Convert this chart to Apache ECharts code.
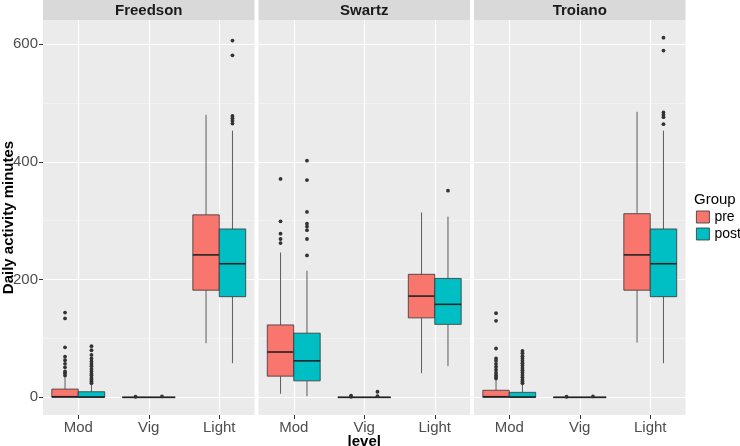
<!DOCTYPE html>
<html>
<head>
<meta charset="utf-8">
<script src="https://cdn.jsdelivr.net/npm/echarts@6/dist/echarts.min.js"></script>
<style>html,body{margin:0;padding:0;background:#fff;}#c{width:740px;height:446px;}</style>
</head>
<body>
<div id="c"></div>
<script>
// ---------- data ----------
const panels = ['Freedson', 'Swartz', 'Troiano'];
const levels = ['Mod', 'Vig', 'Light'];
const groups = ['pre', 'post'];
const yTicks = [0, 200, 400, 600];

// box stats per level: [lower whisker, Q1, median, Q3, upper whisker]
const freedsonPre  = [[0, 0, 1, 14, 34], [0, 0, 0, 0, 0], [92, 182, 242, 310, 480]];
const freedsonPost = [[0, 0, 0.5, 9.5, 21], [0, 0, 0, 0, 0], [58, 171, 227, 286, 453]];
const swartzPre    = [[6, 36, 77, 123, 246], [0, 0, 0, 0, 0], [41, 135, 172, 209, 314]];
const swartzPost   = [[2, 28, 62, 109, 215], [0, 0, 0, 0, 0], [53, 124, 158, 202, 307]];
const troianoPre   = [[0, 0, 1, 12, 29], [0, 0, 0, 0, 0], [93, 182, 242, 312, 485]];
const troianoPost  = [[0, 0, 0.5, 8.5, 21], [0, 0, 0, 0, 0], [58, 171, 227, 286, 453]];

// outliers: [level index, value]
const freedsonPreOut  = [[0,144],[0,134],[0,85],[0,69],[0,63],[0,57],[0,51],[0,44],[0,41],[0,37],[1,1]];
const freedsonPostOut = [[0,87],[0,80],[0,72],[0,66],[0,61],[0,57],[0,53],[0,48],[0,44],[0,40],[0,37],[0,33],[0,30],[0,27],[0,24],[1,1.5],
                         [2,606],[2,581],[2,478],[2,474],[2,470],[2,465]];
const swartzPreOut    = [[0,371],[0,299],[0,278],[0,269],[0,262],[1,1],[1,3]];
const swartzPostOut   = [[0,402],[0,369],[0,315],[0,295],[0,290],[0,284],[0,269],[0,241],[1,2],[1,9.5],[2,351]];
const troianoPreOut   = [[0,143],[0,130],[0,83],[0,66],[0,62],[0,57],[0,52],[0,47],[0,42],[0,38],[0,35],[0,32],[1,1]];
const troianoPostOut  = [[0,79],[0,75],[0,70],[0,66],[0,62],[0,58],[0,54],[0,50],[0,46],[0,42],[0,38],[0,34],[0,30],[0,27],[0,24],[1,1.5],
                         [2,611],[2,589],[2,484],[2,480],[2,476],[2,464]];

const boxData = [[freedsonPre, freedsonPost], [swartzPre, swartzPost], [troianoPre, troianoPost]];
const outData = [[freedsonPreOut, freedsonPostOut], [swartzPreOut, swartzPostOut], [troianoPreOut, troianoPostOut]];

// ---------- styling ----------
const colors = ['#F8766D', '#00BFC4'];
const panelLeft = [43, 258.5, 474];
const panelWidth = 211.5;
const panelTop = 20, panelHeight = 395;
const yMin = -30, yMax = 641;

const chart = echarts.init(document.getElementById('c'), null, {renderer: 'canvas'});

function renderBox(params, api) {
  const cat = api.value(0), grp = api.value(1);
  const bw = api.size([1, 0])[0];
  const w = bw * 0.375;
  const cx = api.coord([cat, 0])[0] + (grp === 0 ? -w / 2 : w / 2);
  const y = v => api.coord([cat, v])[1];
  const lo = api.value(2), q1 = api.value(3), med = api.value(4), q3 = api.value(5), hi = api.value(6);
  const wl = {stroke: '#4d4d4d', lineWidth: 0.9};
  const children = [];
  if (hi > q3) children.push({type: 'line', shape: {x1: cx, y1: y(hi), x2: cx, y2: y(q3)}, style: wl});
  if (q1 > lo) children.push({type: 'line', shape: {x1: cx, y1: y(q1), x2: cx, y2: y(lo)}, style: wl});
  children.push({type: 'rect', shape: {x: cx - w / 2, y: y(q3), width: w, height: Math.max(y(q1) - y(q3), 0)},
    style: {fill: colors[grp], stroke: '#333', lineWidth: 0.8}});
  children.push({type: 'line', shape: {x1: cx - w / 2, y1: y(med), x2: cx + w / 2, y2: y(med)},
    style: {stroke: '#222', lineWidth: 1.6}});
  return {type: 'group', children};
}

function renderOut(params, api) {
  const cat = api.value(0), grp = api.value(1);
  const bw = api.size([1, 0])[0];
  const w = bw * 0.375;
  const p = api.coord([cat, api.value(2)]);
  const cx = p[0] + (grp === 0 ? -w / 2 : w / 2);
  return {type: 'circle', shape: {cx: cx, cy: p[1], r: 1.9}, style: {fill: '#333'}};
}

const grid = [], xAxis = [], yAxis = [], series = [];
panels.forEach((name, i) => {
  grid.push({left: panelLeft[i], top: panelTop, width: panelWidth, height: panelHeight,
    show: true, backgroundColor: '#ebebeb', borderWidth: 0, containLabel: false, outerBoundsMode: 'none'});
  xAxis.push({type: 'category', gridIndex: i, data: levels, boundaryGap: true,
    axisLine: {show: false, onZero: false},
    axisTick: {show: true, alignWithLabel: true, length: 4, lineStyle: {color: '#333', width: 1}},
    axisLabel: {color: '#4d4d4d', fontSize: 15, fontFamily: 'Liberation Sans', margin: 5},
    splitLine: {show: true, alignWithLabel: true, lineStyle: {color: '#fff', width: 1.2}},
    name: i === 1 ? 'level' : '', nameLocation: 'middle', nameGap: 19, nameMoveOverlap: false,
    nameTextStyle: {fontSize: 15, fontWeight: 'bold', color: '#000', fontFamily: 'Liberation Sans'}
  });
  yAxis.push({type: 'value', gridIndex: i, min: yMin, max: yMax, splitNumber: 3,
    axisLine: {show: false, onZero: false},
    axisTick: {show: i === 0, length: 4, customValues: yTicks, lineStyle: {color: '#333'}},
    axisLabel: {show: i === 0, customValues: yTicks, color: '#4d4d4d', fontSize: 15, fontFamily: 'Liberation Sans', margin: 5},
    splitLine: {show: true, lineStyle: {color: '#fff', width: 1.2}},
    minorTick: {show: false, splitNumber: 2},
    minorSplitLine: {show: true, lineStyle: {color: '#f5f5f5', width: 0.7}},
    name: i === 0 ? 'Daily activity minutes' : '', nameLocation: 'middle', nameGap: 27, nameRotate: 90, nameMoveOverlap: false,
    nameTextStyle: {fontSize: 15, fontWeight: 'bold', color: '#000', fontFamily: 'Liberation Sans'}
  });
  groups.forEach((g, gi) => {
    series.push({type: 'custom', name: g, xAxisIndex: i, yAxisIndex: i,
      itemStyle: {color: colors[gi]},
      renderItem: renderBox,
      encode: {x: 0, y: [2, 3, 4, 5, 6]},
      data: boxData[i][gi].map((s, li) => [li, gi].concat(s)),
      z: 3
    });
  });
  groups.forEach((g, gi) => {
    series.push({type: 'custom', name: g + ' outliers', xAxisIndex: i, yAxisIndex: i,
      renderItem: renderOut,
      encode: {x: 0, y: 2},
      data: outData[i][gi].map(d => [d[0], gi, d[1]]),
      z: 4
    });
  });
});

const graphic = [];
panels.forEach((name, i) => {
  graphic.push({type: 'rect', left: panelLeft[i], top: 0, shape: {width: panelWidth, height: 20},
    style: {fill: '#d9d9d9'}, silent: true});
  graphic.push({type: 'text', x: panelLeft[i] + panelWidth / 2, y: 11,
    style: {text: name, fill: '#1a1a1a', font: 'bold 15px "Liberation Sans"', textAlign: 'center', textVerticalAlign: 'middle'}});
});
graphic.push({type: 'text', x: 694, y: 200,
  style: {text: 'Group', fill: '#000', font: '15px "Liberation Sans"', textAlign: 'left', textVerticalAlign: 'middle'}});

chart.setOption({
  animation: false,
  backgroundColor: '#fff',
  grid, xAxis, yAxis, series, graphic,
  legend: {
    data: groups, orient: 'vertical', left: 696, top: 210, padding: 0,
    itemWidth: 13, itemHeight: 12, itemGap: 3, icon: 'rect',
    itemStyle: {borderColor: '#333', borderWidth: 0.8},
    textStyle: {fontSize: 14, color: '#000', fontFamily: 'Liberation Sans'},
    selectedMode: false
  }
});
</script>
</body>
</html>
